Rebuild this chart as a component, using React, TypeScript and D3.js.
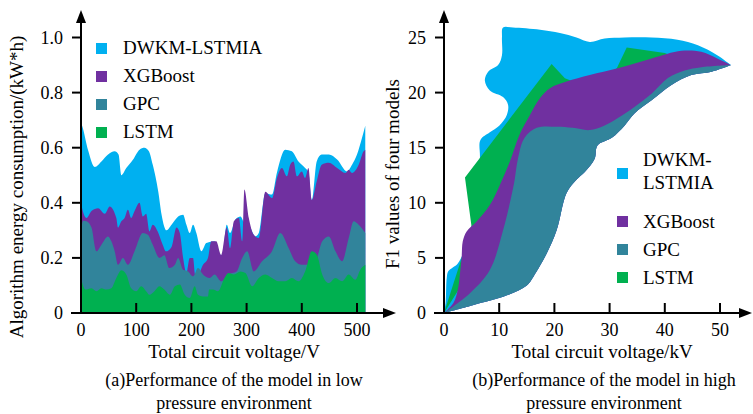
import React from 'react';
import * as d3 from 'd3';

type Pt = [number, number];

const seriesNames = ['DWKM-LSTMIA', 'XGBoost', 'GPC', 'LSTM'];
const seriesColors = ['#00b0f0', '#7030a0', '#31849b', '#00b050'];

// (a) low pressure: [voltage V, energy kW*h]
const lowDWKM: Pt[] = [
  [0, 0.69], [2, 0.68], [13, 0.59], [25, 0.53], [37, 0.55], [49, 0.575], [61, 0.587], [68, 0.575],
  [73, 0.5], [82, 0.526], [94, 0.556], [106, 0.593], [115, 0.6], [123, 0.587], [130, 0.538],
  [140, 0.44], [146, 0.357], [155, 0.3], [164, 0.32], [176, 0.35], [185, 0.357], [191, 0.32],
  [197, 0.29], [203, 0.32], [209, 0.29], [218, 0.224], [227, 0.254], [242, 0.26], [248, 0.22],
  [256, 0.21], [264, 0.32], [270, 0.29], [280, 0.34], [289, 0.35], [295, 0.33], [304, 0.32],
  [316, 0.278], [322, 0.29], [334, 0.435], [346, 0.43], [355, 0.51], [370, 0.593], [382, 0.587],
  [394, 0.55], [406, 0.526], [412, 0.51], [418, 0.41], [427, 0.55], [436, 0.575], [449, 0.575],
  [464, 0.557], [482, 0.514], [491, 0.538], [500, 0.575], [509, 0.635], [515, 0.68],
];
const lowXGB: Pt[] = [
  [0, 0.4], [2, 0.38], [10, 0.345], [19, 0.37], [31, 0.38], [43, 0.36], [52, 0.387], [64, 0.345],
  [67, 0.31], [73, 0.333], [79, 0.345], [85, 0.375], [91, 0.345], [97, 0.37], [106, 0.4],
  [112, 0.35], [118, 0.36], [124, 0.296], [130, 0.32], [139, 0.296], [148, 0.248], [154, 0.224],
  [164, 0.24], [173, 0.31], [179, 0.29], [185, 0.2], [191, 0.145], [197, 0.2], [203, 0.2],
  [207, 0.14], [212, 0.14], [221, 0.175], [230, 0.2], [236, 0.26], [245, 0.26], [254, 0.21],
  [264, 0.31], [270, 0.235], [277, 0.333], [286, 0.345], [292, 0.26], [296, 0.448], [304, 0.345],
  [313, 0.284], [322, 0.272], [334, 0.44], [346, 0.417], [355, 0.49], [364, 0.526], [373, 0.496],
  [379, 0.538], [385, 0.55], [391, 0.496], [400, 0.514], [406, 0.49], [412, 0.526], [418, 0.41],
  [427, 0.478], [436, 0.538], [449, 0.545], [464, 0.526], [479, 0.508], [485, 0.52], [491, 0.508],
  [503, 0.538], [512, 0.587], [515, 0.593],
];
const lowGPC: Pt[] = [
  [0, 0.3], [4, 0.335], [10, 0.333], [19, 0.31], [28, 0.224], [37, 0.248], [49, 0.278], [55, 0.26],
  [61, 0.224], [67, 0.175], [76, 0.2], [85, 0.175], [97, 0.224], [112, 0.29], [121, 0.284],
  [130, 0.248], [142, 0.2], [151, 0.21], [160, 0.163], [170, 0.175], [176, 0.2], [185, 0.157],
  [194, 0.151], [203, 0.133], [212, 0.163], [221, 0.14], [233, 0.127], [242, 0.14], [254, 0.115],
  [267, 0.14], [282, 0.151], [292, 0.2], [301, 0.224], [313, 0.151], [328, 0.188], [346, 0.224],
  [361, 0.29], [376, 0.236], [388, 0.188], [400, 0.175], [412, 0.175], [425, 0.188], [437, 0.26],
  [449, 0.278], [461, 0.224], [473, 0.188], [485, 0.272], [494, 0.333], [503, 0.32], [515, 0.29],
];
const lowLSTM: Pt[] = [
  [0, 0.127], [8, 0.085], [19, 0.09], [28, 0.079], [37, 0.09], [46, 0.085], [55, 0.09],
  [64, 0.127], [73, 0.155], [82, 0.14], [91, 0.09], [100, 0.079], [109, 0.097], [118, 0.079],
  [124, 0.066], [133, 0.079], [142, 0.097], [151, 0.085], [161, 0.066], [170, 0.097],
  [179, 0.103], [188, 0.066], [197, 0.054], [206, 0.097], [212, 0.066], [221, 0.06], [230, 0.06],
  [232, 0.085], [239, 0.085], [248, 0.079], [260, 0.127], [267, 0.145], [277, 0.14], [289, 0.151],
  [298, 0.145], [310, 0.097], [322, 0.127], [334, 0.14], [346, 0.127], [358, 0.115], [370, 0.115],
  [382, 0.127], [394, 0.115], [406, 0.151], [418, 0.224], [427, 0.212], [437, 0.14], [449, 0.109],
  [461, 0.127], [473, 0.115], [485, 0.14], [497, 0.121], [506, 0.157], [515, 0.175],
];

// (b) high pressure: [voltage kV, F1], band outlines
const highDWKMUpper: Pt[] = [
  [0, 0], [0.3, 1], [0.5, 3.2], [0.8, 3.8], [2.5, 4.5], [3.6, 5.6], [5.6, 9.2], [6.5, 14],
  [6.6, 15.7], [8.3, 16.4], [10, 17], [11.4, 18], [11.6, 18.9], [10.7, 19.6], [8.3, 20.2],
  [7.4, 21.1], [8, 21.9], [9.8, 22.5], [10.5, 23.4], [10.5, 25], [10.7, 25.9], [12.5, 25.9],
  [17.4, 25.7], [21, 25.4], [24, 25], [26.4, 24.6], [29.1, 24.9], [32.7, 25], [37.6, 25],
  [42.3, 24.8], [46, 24.3], [49.5, 23.4], [52, 22.5],
];
const highXGBUpper: Pt[] = [
  [0, 0], [1.7, 0.9], [2.5, 2.1], [2.9, 3.6], [3.2, 5.1], [3.4, 6.5], [4.1, 7.4], [5.9, 8.3],
  [8.3, 9.8], [10.1, 11.6], [11.9, 13.7], [13.7, 16.2], [15.6, 18], [17.4, 19.5], [19.2, 20.4],
  [22.2, 21], [26.4, 21.6], [31.5, 22.2], [37.6, 23.1], [43, 23.8], [46.6, 23.7], [49.5, 23.1],
  [52, 22.5],
];
const highGPCUpper: Pt[] = [
  [0, 0], [4.7, 1.8], [8.3, 3.9], [10.7, 7.5], [12.2, 10.6], [12.8, 12.1], [13.4, 14],
  [14.6, 15.9], [16.8, 16.8], [20.4, 16.9], [23.3, 16.8], [26.4, 16.6], [29, 17], [31.5, 17.7],
  [34.5, 18.7], [37.6, 19.9], [40.5, 21.3], [43.6, 22], [46.6, 22.3], [52, 22.5],
];
const highGPCLower: Pt[] = [
  [52, 22.5], [48.5, 21.9], [44.8, 21.6], [41.2, 20.7], [37.6, 19.3], [34.5, 18.1], [32.7, 17],
  [30.4, 15.9], [27.8, 15.2], [27.3, 14], [25.5, 12.8], [24, 12.1], [22.2, 10.9], [20.4, 7.5],
  [18.6, 5.4], [16.2, 3.3], [15, 2.5], [11.4, 1.6], [5.2, 0.7], [0, 0],
];
const highLSTMOutline: Pt[] = [
  [0, 0], [5, 7.8], [3.8, 12.3], [19.5, 22.6], [21.9, 21.3], [26, 20.5], [31.3, 22.2],
  [33.1, 24.1], [40, 23.6], [44, 22.8], [40, 21], [30, 18], [20, 14], [10, 8],
];

const lowXTicks = [0, 100, 200, 300, 400, 500];
const lowYTicks = [0, 0.2, 0.4, 0.6, 0.8, 1.0];
const highXTicks = [0, 10, 20, 30, 40, 50];
const highYTicks = [0, 5, 10, 15, 20, 25];

const FONT = "'Liberation Serif', 'Times New Roman', serif";
const txt = { fontFamily: FONT, fill: '#000' };

const Axes = ({ x, y, xTicks, yTicks, yFmt, xEnd }: any) => {
  const x0 = x.range()[0];
  const y0 = y.range()[0];
  return (
    <g>
      <g stroke="#000" strokeWidth={2}>
        <line x1={x0 - 10} x2={xEnd - 6} y1={y0} y2={y0} />
        <line x1={x0} x2={x0} y1={y0 + 1} y2={18} />
        {xTicks.filter((t: number) => t !== 0).map((t: number) => (
          <line key={'xt' + t} x1={x(t)} x2={x(t)} y1={y0} y2={y0 - 10} />
        ))}
        {yTicks.map((t: number) => (
          <line key={'yt' + t} x1={x0 - 9} x2={x0} y1={y(t)} y2={y(t)} />
        ))}
      </g>
      <polygon points={`${x0},10 ${x0 - 5},23 ${x0 + 5},23`} fill="#000" />
      <polygon points={`${xEnd},${y0} ${xEnd - 13},${y0 - 5} ${xEnd - 13},${y0 + 5}`} fill="#000" />
      {xTicks.map((t: number) => (
        <text key={'xl' + t} x={x(t)} y={y0 + 23} textAnchor="middle" style={txt} fontSize={18}>{t}</text>
      ))}
      {yTicks.map((t: number) => (
        <text key={'yl' + t} x={x0 - 18} y={y(t) + 6} textAnchor="end" style={txt} fontSize={18}>{yFmt(t)}</text>
      ))}
    </g>
  );
};

export default function App() {
  // scales for panel (a)
  const xa = d3.scaleLinear().domain([0, 500]).range([81, 357]);
  const ya = d3.scaleLinear().domain([0, 1]).range([313, 37.5]);
  // scales for panel (b)
  const xb = d3.scaleLinear().domain([0, 50]).range([444, 720]);
  const yb = d3.scaleLinear().domain([0, 25]).range([313, 37.5]);

  const area = d3
    .area<Pt>()
    .x((d) => xa(d[0]))
    .y0(ya(0))
    .y1((d) => ya(d[1]))
    .curve(d3.curveMonotoneX);

  const line = d3
    .line<Pt>()
    .x((d) => xb(d[0]))
    .y((d) => yb(d[1]))
    .curve(d3.curveCatmullRom.alpha(0.5));

  const band = (upper: Pt[], lower: Pt[]) =>
    (line(upper) as string) + (line(lower) as string).replace(/^M/, 'L') + 'Z';

  const lstmPath = d3
    .line<Pt>()
    .x((d) => xb(d[0]))
    .y((d) => yb(d[1]))
    .curve(d3.curveLinearClosed)(highLSTMOutline) as string;

  const lowSeries = [lowDWKM, lowXGB, lowGPC, lowLSTM];

  return (
    <svg width={753} height={414} style={{ position: 'absolute', left: 0, top: 0, background: '#fff' }}>
      {/* (a) low pressure */}
      {lowSeries.map((s, i) => (
        <path key={i} d={area(s) as string} fill={seriesColors[i]} />
      ))}
      <Axes x={xa} y={ya} xTicks={lowXTicks} yTicks={lowYTicks} xEnd={396}
        yFmt={(t: number) => (t === 0 ? '0' : t.toFixed(1))} />
      {seriesNames.map((n, i) => (
        <g key={n}>
          <rect x={96} y={43 + i * 28} width={11} height={11} fill={seriesColors[i]} />
          <text x={123} y={54 + i * 28} fontSize={19} style={txt}>{n}</text>
        </g>
      ))}
      <text transform="translate(23,187) rotate(-90)" textAnchor="middle" fontSize={19} style={txt}>
        Algorithm energy consumption/(kW*h)
      </text>
      <text x={234} y={358} textAnchor="middle" fontSize={19} style={txt}>Total circuit voltage/V</text>
      <text x={234} y={386} textAnchor="middle" fontSize={18} style={txt}>(a)Performance of the model in low</text>
      <text x={234} y={409} textAnchor="middle" fontSize={18} style={txt}>pressure environment</text>

      {/* (b) high pressure */}
      <path d={band(highDWKMUpper, highGPCLower)} fill={seriesColors[0]} />
      <path d={lstmPath} fill={seriesColors[3]} />
      <path d={band(highXGBUpper, highGPCLower)} fill={seriesColors[1]} />
      <path d={band(highGPCUpper, highGPCLower)} fill={seriesColors[2]} />
      <Axes x={xb} y={yb} xTicks={highXTicks} yTicks={highYTicks} xEnd={752} yFmt={(t: number) => String(t)} />
      <rect x={617} y={168} width={11} height={11} fill={seriesColors[0]} />
      <text x={643} y={166} fontSize={19} style={txt}>DWKM-</text>
      <text x={643} y={189} fontSize={19} style={txt}>LSTMIA</text>
      {seriesNames.slice(1).map((n, i) => (
        <g key={n}>
          <rect x={617} y={216 + i * 28} width={11} height={11} fill={seriesColors[i + 1]} />
          <text x={643} y={228 + i * 28} fontSize={19} style={txt}>{n}</text>
        </g>
      ))}
      <text transform="translate(399,174) rotate(-90)" textAnchor="middle" fontSize={19} style={txt}>
        F1 values of four models
      </text>
      <text x={602} y={358} textAnchor="middle" fontSize={19} style={txt}>Total circuit voltage/kV</text>
      <text x={604} y={386} textAnchor="middle" fontSize={18} style={txt}>(b)Performance of the model in high</text>
      <text x={604} y={409} textAnchor="middle" fontSize={18} style={txt}>pressure environment</text>
    </svg>
  );
}
